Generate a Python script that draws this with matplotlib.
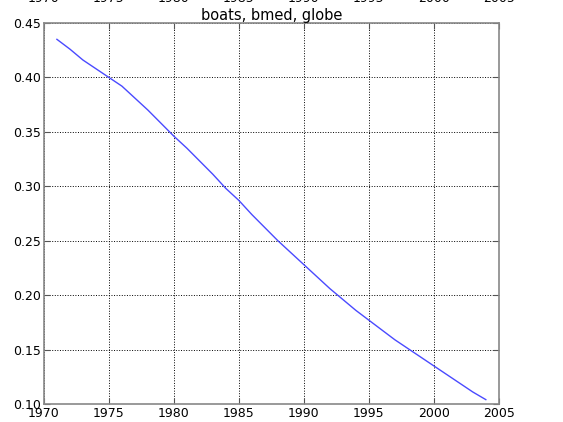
import matplotlib
matplotlib.use("Agg")
import matplotlib.pyplot as plt

# values
years = [1971, 1972, 1973, 1974, 1975, 1976, 1977, 1978, 1979, 1980,
         1981, 1982, 1983, 1984, 1985, 1986, 1987, 1988, 1989, 1990,
         1991, 1992, 1993, 1994, 1995, 1996, 1997, 1998, 1999, 2000,
         2001, 2002, 2003, 2004]
values = [0.435, 0.426, 0.416, 0.408, 0.400, 0.392, 0.381, 0.370, 0.358, 0.346,
          0.335, 0.323, 0.311, 0.298, 0.287, 0.274, 0.262, 0.250, 0.239, 0.228,
          0.217, 0.206, 0.196, 0.186, 0.177, 0.168, 0.159, 0.151, 0.143, 0.135,
          0.127, 0.119, 0.111, 0.104]

xticks = [1970, 1975, 1980, 1985, 1990, 1995, 2000, 2005]
yticks = [0.10, 0.15, 0.20, 0.25, 0.30, 0.35, 0.40, 0.45]
title = "boats, bmed, globe"

fig = plt.figure(figsize=(5.63, 4.22), dpi=100)
ax = fig.add_axes([0.078, 0.0427, 0.808, 0.9028])

ax.plot(years, values, color="#4a4aff", lw=1.0)

ax.set_xlim(1970, 2005)
ax.set_ylim(0.10, 0.45)
ax.set_xticks(xticks)
ax.set_yticks(yticks)
ax.set_yticklabels(["%.2f" % v for v in yticks])
ax.tick_params(direction="in", top=True, right=True, labelsize=9, pad=2,
               length=4, color="#555555")
ax.grid(True, linestyle=":", color="black", lw=0.7)
for s in ax.spines.values():
    s.set_color("#888888")
    s.set_linewidth(1.2)
ax.set_title(title, fontsize=10.5, pad=2)

# tick labels of the panel above, mostly cut off by the figure edge
top = fig.add_axes([0.078, 1.03, 0.808, 0.3])
top.set_xlim(1970, 2005)
top.set_xticks(xticks)
top.set_yticks([])
top.tick_params(labelsize=9, length=0, pad=3)
for s in top.spines.values():
    s.set_visible(False)
top.patch.set_visible(False)

fig.savefig("out.png", dpi=100)
